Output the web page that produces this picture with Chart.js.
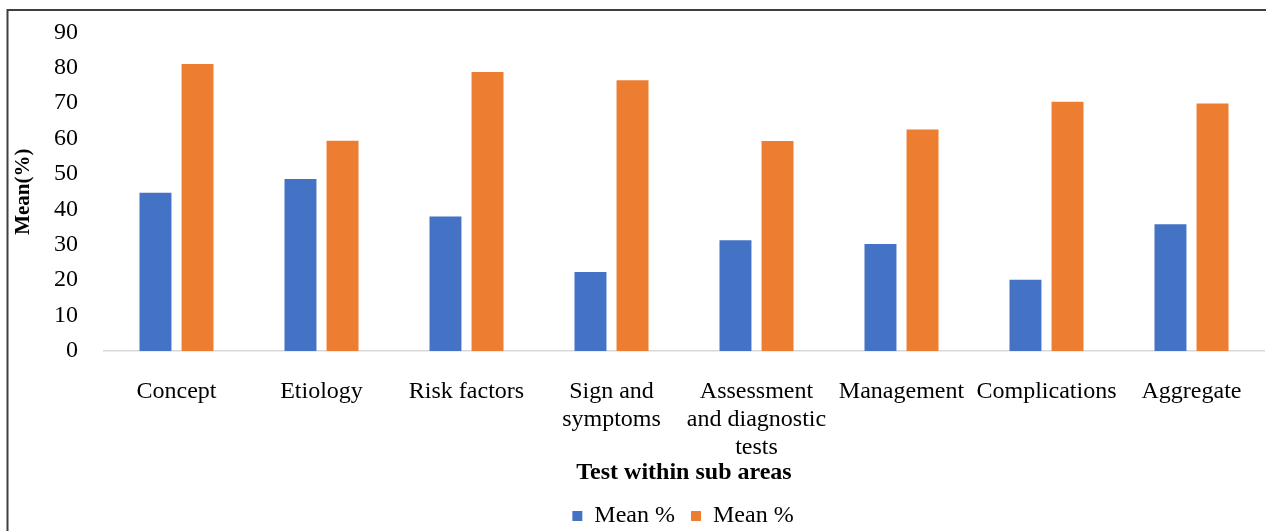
<!DOCTYPE html>
<html>
<head>
<meta charset="utf-8">
<script src="https://cdn.jsdelivr.net/npm/chart.js@4/dist/chart.umd.min.js"></script>
<style>
  html, body { margin: 0; padding: 0; background: #fff; }
  #wrap { width: 1266px; height: 531px; position: relative; }
</style>
</head>
<body>
<div id="wrap"><canvas id="c" width="1266" height="531"></canvas></div>
<script>
const categories = [
  "Concept",
  "Etiology",
  "Risk factors",
  ["Sign and", "symptoms"],
  ["Assessment", "and diagnostic", "tests"],
  "Management",
  "Complications",
  "Aggregate"
];
const seriesNames = ["Mean %", "Mean %"];
const seriesBlue = [44.7, 48.6, 38.0, 22.3, 31.3, 30.2, 20.1, 35.8];
const seriesOrange = [81.1, 59.4, 78.8, 76.5, 59.3, 62.6, 70.4, 69.9];
const yTicks = [0, 10, 20, 30, 40, 50, 60, 70, 80, 90];

const FONT = "'Liberation Serif', 'Times New Roman', serif";

const frame = {
  id: 'frame',
  beforeDraw(chart) {
    const ctx = chart.ctx;
    ctx.save();
    ctx.fillStyle = '#ffffff';
    ctx.fillRect(0, 0, chart.width, chart.height);
    ctx.strokeStyle = '#3f3f3f';
    ctx.lineWidth = 2;
    ctx.beginPath();
    ctx.moveTo(chart.width + 2, 10);
    ctx.lineTo(7.5, 10);
    ctx.lineTo(7.5, chart.height + 2);
    ctx.stroke();
    ctx.restore();
  }
};

const legendPlace = {
  id: 'legendPlace',
  afterLayout(chart) {
    const lg = chart.legend;
    if (!lg) return;
    lg.left = chart.chartArea.left - 1;
    lg.right = chart.chartArea.right - 1;
    lg.top += 1;
    lg.bottom += 1;
  }
};

new Chart(document.getElementById('c'), {
  type: 'bar',
  data: {
    labels: categories,
    datasets: [
      { label: seriesNames[0], data: seriesBlue, backgroundColor: '#4472C4' },
      { label: seriesNames[1], data: seriesOrange, backgroundColor: '#ED7D31' }
    ]
  },
  options: {
    responsive: false,
    animation: false,
    devicePixelRatio: 1,
    categoryPercentage: 0.58,
    barPercentage: 0.76,
    layout: { padding: { left: 0, right: 2, top: 7, bottom: -6 } },
    plugins: {
      tooltip: { enabled: false },
      legend: {
        position: 'bottom',
        labels: {
          color: '#000',
          font: { family: FONT, size: 24 },
          boxWidth: 10,
          boxHeight: 10,
          padding: 16
        }
      }
    },
    scales: {
      x: {
        grid: { display: false },
        border: { display: true, color: '#d9d9d9', width: 1.5 },
        ticks: {
          color: '#000',
          font: { family: FONT, size: 24, lineHeight: 1.17 },
          padding: 19,
          maxRotation: 0,
          autoSkip: false
        },
        title: {
          display: true,
          text: 'Test within sub areas',
          color: '#000',
          font: { family: FONT, size: 24, weight: 'bold' },
          padding: { top: 0, bottom: 0 }
        },
        afterFit(scale) { scale.height = 136; }
      },
      y: {
        min: 0,
        max: 90,
        afterBuildTicks(scale) { scale.ticks = yTicks.map(v => ({ value: v })); },
        grid: { display: false },
        border: { display: false },
        ticks: {
          color: '#000',
          font: { family: FONT, size: 24 },
          padding: 18
        },
        title: {
          display: true,
          text: 'Mean(%)',
          color: '#000',
          font: { family: FONT, size: 21, weight: 'bold' },
          padding: { top: 11, bottom: 0 }
        },
        afterFit(scale) { scale.width = 104; }
      }
    }
  },
  plugins: [frame, legendPlace]
});
</script>
</body>
</html>
